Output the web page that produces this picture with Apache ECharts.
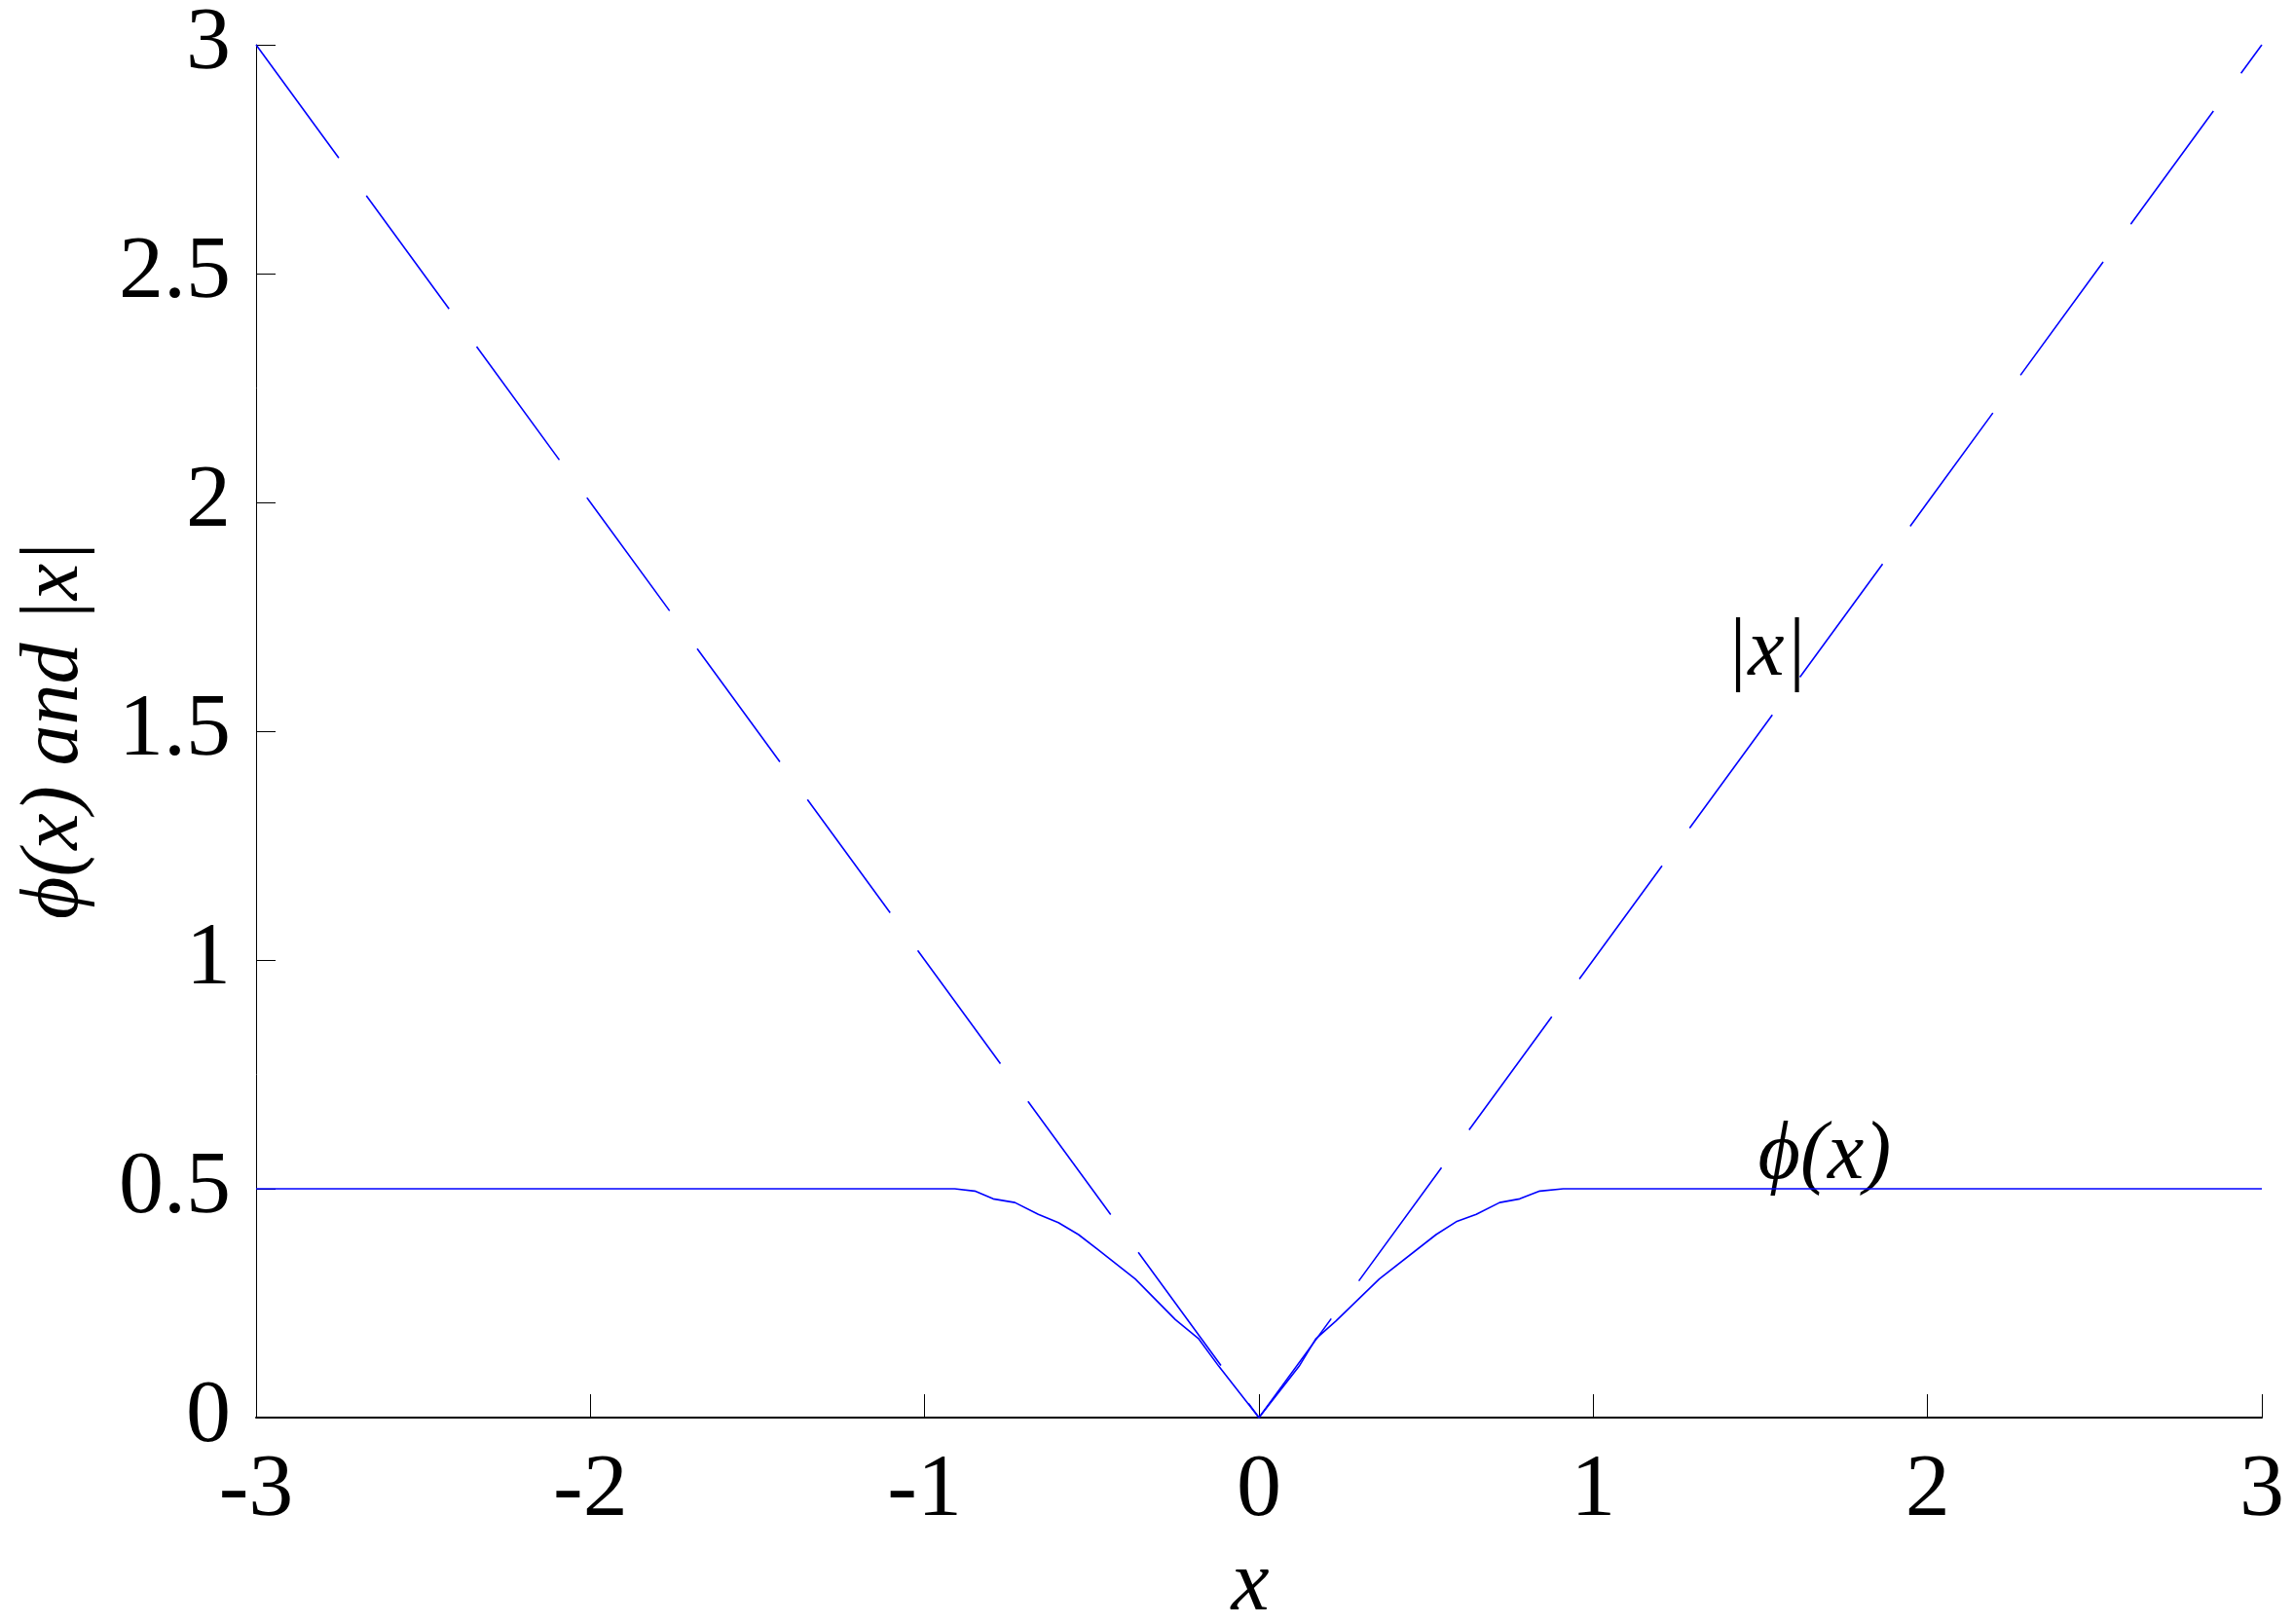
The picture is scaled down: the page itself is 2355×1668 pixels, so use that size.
<!DOCTYPE html>
<html>
<head>
<meta charset="utf-8">
<script src="https://cdn.jsdelivr.net/npm/echarts@6/dist/echarts.min.js"></script>
<style>
  html, body { margin: 0; padding: 0; background: #fff; }
  #main { width: 2355px; height: 1668px; }
</style>
</head>
<body>
<div id="main"></div>
<script>
// |x| reference line (dashed)
const absX = [-3, -2, -1, 0, 1, 2, 3];
const absY = [3, 2, 1, 0, 1, 2, 3];

// phi(x)
const phiX = [-3, -0.91, -0.85, -0.795, -0.73, -0.66, -0.6, -0.54, -0.48, -0.37, -0.25, -0.18, -0.12, 0,
  0.12, 0.17, 0.23, 0.36, 0.53, 0.59, 0.65, 0.72, 0.78, 0.84, 0.91, 3];
const phiY = [0.5, 0.5, 0.495, 0.478, 0.47, 0.444, 0.426, 0.4, 0.366, 0.303, 0.214, 0.172, 0.112, 0,
  0.112, 0.172, 0.211, 0.303, 0.4, 0.428, 0.444, 0.47, 0.478, 0.495, 0.5, 0.5];

// in-plot labels: [x, y, text]
const absLabel = [1.517, 1.671, '|x|'];
const phiLabel = [1.692, 0.570, 'ϕ(x)'];

const serif = "'Liberation Serif', 'Times New Roman', serif";
const blue = '#0000ff';

const chart = echarts.init(document.getElementById('main'));

function zip(xs, ys) {
  return xs.map((x, i) => [x, ys[i]]);
}

chart.setOption({
  animation: false,
  backgroundColor: '#fff',
  grid: { left: 263, right: 32, top: 41, bottom: 212 },
  xAxis: {
    type: 'value',
    position: 'bottom',
    min: -3, max: 3, interval: 1,
    axisLine: { onZero: false, lineStyle: { color: '#000', width: 2 } },
    // negative length -> ticks point up into the plot
    axisTick: { inside: false, length: -24, lineStyle: { color: '#000', width: 1 } },
    axisLabel: { color: '#000', fontFamily: serif, fontSize: 92, margin: 30 },
    splitLine: { show: false }
  },
  yAxis: {
    type: 'value',
    min: 0, max: 3, interval: 0.5,
    axisLine: { show: true, onZero: false, lineStyle: { color: '#000', width: 1 } },
    axisTick: { show: true, inside: true, length: 20, lineStyle: { color: '#000', width: 1 } },
    axisLabel: { color: '#000', fontFamily: serif, fontSize: 92, margin: 26 },
    splitLine: { show: false }
  },
  series: [
    {
      name: '|x|',
      type: 'line',
      data: zip(absX, absY),
      showSymbol: false,
      lineStyle: { color: blue, width: 1.6, type: [144, 48] }
    },
    {
      name: 'phi',
      type: 'line',
      data: zip(phiX, phiY),
      showSymbol: false,
      lineStyle: { color: blue, width: 1.6 }
    }
  ]
});

// labels placed via the chart's own scales
const p1 = chart.convertToPixel({ gridIndex: 0 }, [absLabel[0], absLabel[1]]);
const p2 = chart.convertToPixel({ gridIndex: 0 }, [phiLabel[0], phiLabel[1]]);

chart.setOption({
  graphic: [
    {
      type: 'text', x: p1[0], y: p1[1],
      style: { text: absLabel[2], font: 'italic 84px ' + serif, fill: '#000', textAlign: 'center', textVerticalAlign: 'middle' }
    },
    {
      type: 'text', x: p2[0], y: p2[1],
      style: { text: phiLabel[2], font: 'italic 84px ' + serif, fill: '#000', textAlign: 'center', textVerticalAlign: 'middle' }
    },
    {
      type: 'text', x: 1284, y: 1630,
      style: { text: 'x', font: 'italic 88px ' + serif, fill: '#000', textAlign: 'center', textVerticalAlign: 'middle' }
    },
    {
      type: 'text', x: 57, y: 750, rotation: Math.PI / 2,
      style: { text: 'ϕ(x) and |x|', font: 'italic 84px ' + serif, fill: '#000', textAlign: 'center', textVerticalAlign: 'middle' }
    }
  ]
});
</script>
</body>
</html>
